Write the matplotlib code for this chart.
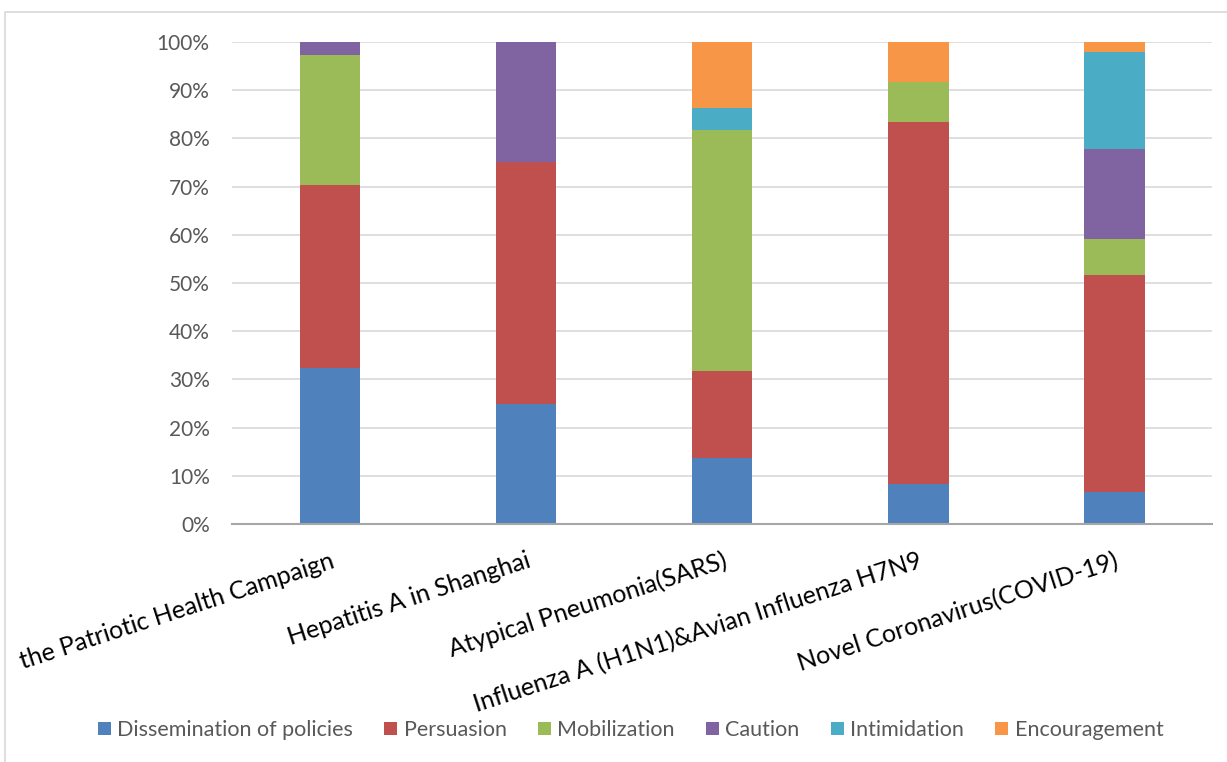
import matplotlib.pyplot as plt
import numpy as np
from matplotlib.font_manager import FontProperties
from matplotlib.patches import PathPatch, Rectangle
from matplotlib.textpath import TextPath
from matplotlib.transforms import Affine2D

events = [
    "the Patriotic Health Campaign",
    "Hepatitis A in Shanghai",
    "Atypical Pneumonia(SARS)",
    "Influenza A (H1N1)&Avian Influenza H7N9",
    "Novel Coronavirus(COVID-19)",
]
slogan_types = ["Dissemination of policies", "Persuasion", "Mobilization",
                "Caution", "Intimidation", "Encouragement"]

# share of each slogan type per event, in percent
dissemination = [32.4, 25.0, 13.6, 8.3, 6.7]
persuasion = [37.9, 50.0, 18.2, 75.0, 45.0]
mobilization = [27.0, 0.0, 50.0, 8.3, 7.4]
caution = [2.7, 25.0, 0.0, 0.0, 18.8]
intimidation = [0.0, 0.0, 4.6, 0.0, 20.1]
encouragement = [0.0, 0.0, 13.6, 8.4, 2.0]

caption = "Table 1 The proportion of each type of slogans under each public health emergencies"

colors = ["#4F81BD", "#C0504D", "#9BBB59", "#8064A2", "#4BACC6", "#F79646"]

plt.rcParams["font.family"] = ["Lato", "DejaVu Sans"]

fig = plt.figure(figsize=(12.27, 7.62), dpi=100)
ax = fig.add_axes([0.189, 0.3123, 0.799, 0.6326])

series = [dissemination, persuasion, mobilization, caution, intimidation, encouragement]
x = np.arange(len(events))
bottom = np.zeros(len(events))
for name, vals, color in zip(slogan_types, series, colors):
    vals = np.array(vals)
    ax.bar(x, vals, 0.31, bottom=bottom, color=color, label=name, zorder=3)
    bottom += vals

ax.set_xlim(-0.5, len(events) - 0.5)
ax.set_ylim(0, 100)
ax.set_yticks(np.arange(0, 101, 10))
ax.set_yticklabels([f"{v}%" for v in range(0, 101, 10)], color="#595959", fontsize=15)
ax.yaxis.grid(True, color="#D9D9D9", linewidth=1.2, zorder=0)
ax.tick_params(axis="y", length=0, pad=16)
ax.tick_params(axis="x", length=0, pad=18)
for side in ["left", "right", "top"]:
    ax.spines[side].set_visible(False)
ax.spines["bottom"].set_color("#A6A6A6")
ax.spines["bottom"].set_linewidth(1.5)
ax.spines["bottom"].set_zorder(4)

ax.set_xticks(x)
ax.set_xticklabels(events, rotation=18, ha="right", va="top",
                   rotation_mode="anchor", fontsize=18, color="black")

fig.legend(loc="center", bbox_to_anchor=(0.514, 1 - 730 / 762), ncol=6,
           frameon=False, fontsize=15.5, handlelength=0.6, handleheight=0.6,
           handletextpad=0.3, columnspacing=1.45, labelcolor="#595959")

# chart frame (cut off at the right and bottom)
fig.patches.append(Rectangle((5 / 1227, -0.1), 1.2, 1.1 - 12 / 762,
                             transform=fig.transFigure, fill=False,
                             edgecolor="#D9D9D9", linewidth=1.2))

# table caption above the chart, only its lowest pixels fall inside the picture
cap_path = TextPath((0, 0), caption, size=23,
                    prop=FontProperties(family="Liberation Serif"))
cap_tf = Affine2D().scale(fig.dpi / 72).translate(90, 762 + 20)
fig.patches.append(PathPatch(cap_path, transform=cap_tf, facecolor="black",
                             edgecolor="none"))

fig.savefig("out.png", dpi=100)
